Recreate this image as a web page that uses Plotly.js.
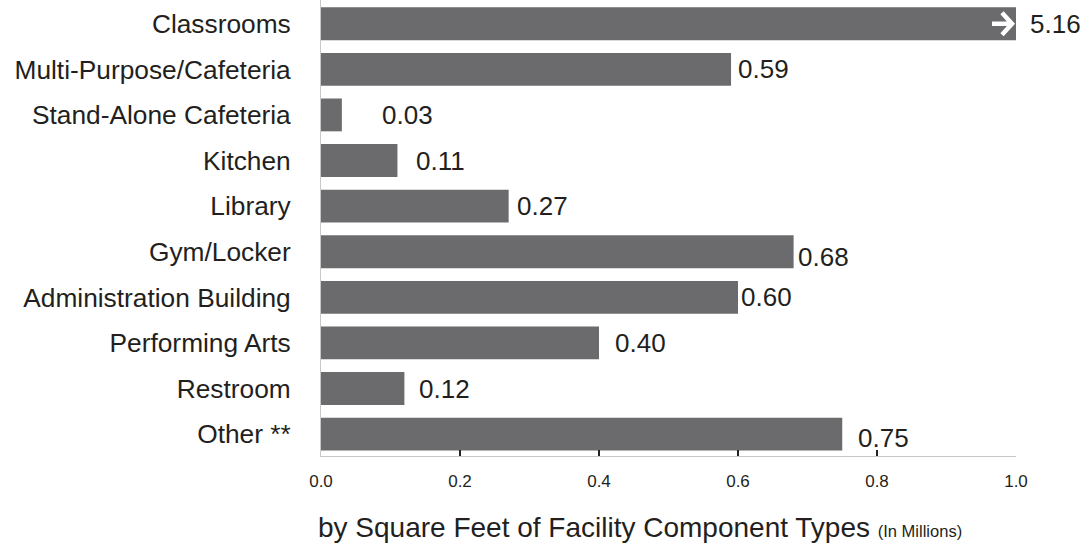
<!DOCTYPE html>
<html>
<head>
<meta charset="utf-8">
<script src="https://cdn.plot.ly/plotly-3.0.1.min.js"></script>
<style>html,body{margin:0;padding:0;background:#fff;}#chart{width:1082px;height:544px;}</style>
</head>
<body>
<div id="chart"></div>
<script>
// Data (top to bottom as shown)
const categories = ["Classrooms","Multi-Purpose/Cafeteria","Stand-Alone Cafeteria","Kitchen","Library","Gym/Locker","Administration Building","Performing Arts","Restroom","Other **"];
const values = [5.16, 0.59, 0.03, 0.11, 0.27, 0.68, 0.60, 0.40, 0.12, 0.75];
const valueLabels = ["5.16","0.59","0.03","0.11","0.27","0.68","0.60","0.40","0.12","0.75"];
const xTickVals = [0, 0.2, 0.4, 0.6, 0.8, 1.0];
const xTickText = ["0.0","0.2","0.4","0.6","0.8","1.0"];

// label placement style (pixel nudges)
const labelDx = [12, 5, 38, 17, 6, 2, 1, 14, 13, 14];
const labelDy = [0, 0, 0, 0, 0, -5, 0, 0, 0, -4];

const xMax = 1.0;
const txt = '#231f20';
const font = '"Liberation Sans", Arial, Helvetica, sans-serif';

const cats = categories.slice().reverse();
const vals = values.slice().reverse();

const annotations = categories.map((c, i) => ({
  x: Math.min(values[i], xMax), y: c, xref: 'x', yref: 'y',
  text: valueLabels[i], showarrow: false, xanchor: 'left', yanchor: 'middle',
  xshift: labelDx[i], yshift: labelDy[i],
  font: {family: font, size: 26, color: txt}
}));
annotations.push({
  x: 0.5, y: 0, xref: 'paper', yref: 'paper', xanchor: 'center', yanchor: 'middle',
  showarrow: false, yshift: -71, xshift: -29,
  text: 'by Square Feet of Facility Component Types <span style="font-size:16.5px">(In Millions)</span>',
  font: {family: font, size: 28, color: txt}
});

// overflow arrow drawn on the clipped bar (pixel-sized glyph anchored at axis end)
const shapes = [{
  type: 'path', xref: 'x', yref: 'y', xsizemode: 'pixel', ysizemode: 'pixel',
  xanchor: xMax, yanchor: categories.length - 1,
  path: 'M -24 0 L -4 0 M -14 -11 L -4 0 L -14 11',
  line: {color: '#ffffff', width: 4.5}
}];

Plotly.newPlot('chart', [{
  type: 'bar', orientation: 'h', x: vals, y: cats,
  marker: {color: '#6b6b6e', line: {width: 0}}, width: 0.72,
  hoverinfo: 'skip'
}], {
  width: 1082, height: 544,
  margin: {l: 321, r: 66, t: 0, b: 88},
  paper_bgcolor: '#fff', plot_bgcolor: '#fff',
  showlegend: false,
  xaxis: {
    range: [0, xMax], tickvals: xTickVals, ticktext: xTickText,
    showgrid: false, zeroline: false, showline: true, linecolor: '#c8c8c8', linewidth: 1,
    ticks: 'inside', ticklen: 6, tickwidth: 2, tickcolor: '#222',
    tickfont: {family: font, size: 17, color: txt}, ticklabelstandoff: 10
  },
  yaxis: {
    type: 'category', categoryorder: 'array', categoryarray: cats,
    range: [-0.48, 9.52],
    showgrid: false, zeroline: false, showline: true, linecolor: '#c8c8c8', linewidth: 1,
    ticks: '', tickfont: {family: font, size: 26.3, color: txt}, ticklabelstandoff: 24
  },
  annotations: annotations,
  shapes: shapes
}, {staticPlot: true});
</script>
</body>
</html>
